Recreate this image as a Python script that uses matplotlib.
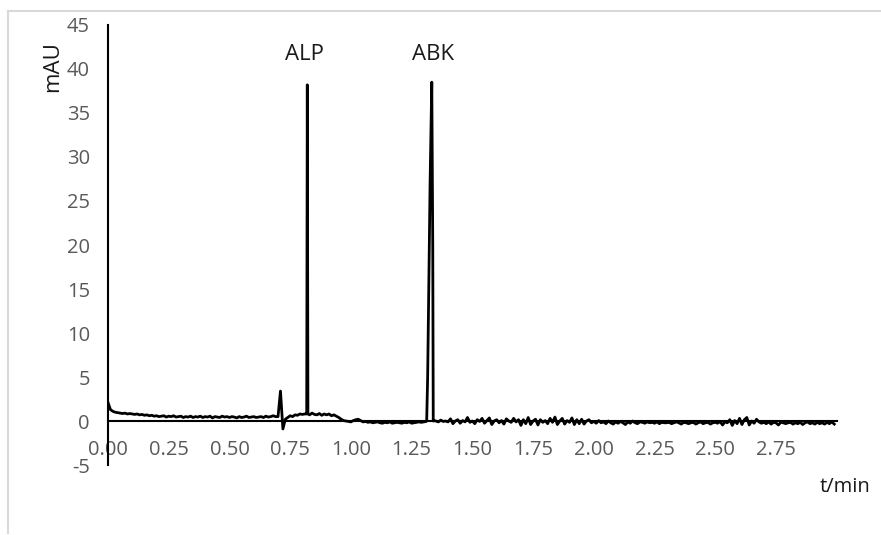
import numpy as np
import matplotlib
matplotlib.use("Agg")
import matplotlib.pyplot as plt
from matplotlib.lines import Line2D

plt.rcParams['font.family'] = ['Open Sans', 'DejaVu Sans']
plt.rcParams['axes.unicode_minus'] = False

# Detector baseline sampled every 0.01 min (mAU), 0.00 .. 2.99 min
baseline_start = 0.0
baseline_step = 0.01
baseline = [
    2.1, 1.3, 1.1, 1.0, 0.95, 0.9, 0.85, 0.9, 0.8, 0.85,
    0.8, 0.75, 0.8, 0.7, 0.75, 0.65, 0.7, 0.6, 0.65, 0.55,
    0.6, 0.5, 0.55, 0.6, 0.45, 0.55, 0.5, 0.6, 0.45, 0.5,
    0.55, 0.4, 0.5, 0.45, 0.55, 0.4, 0.5, 0.45, 0.55, 0.4,
    0.5, 0.45, 0.55, 0.35, 0.5, 0.45, 0.4, 0.55, 0.45, 0.5,
    0.4, 0.5, 0.45, 0.35, 0.5, 0.4, 0.45, 0.55, 0.4, 0.45,
    0.5, 0.4, 0.45, 0.5, 0.4, 0.55, 0.45, 0.5, 0.6, 0.5,
    0.5, 3.4, -0.9, 0.2, 0.4, 0.6, 0.5, 0.7, 0.65, 0.8,
    0.75, 0.8, 0.85, 0.7, 0.9, 0.75, 0.7, 0.85, 0.65, 0.8,
    0.7, 0.8, 0.6, 0.7, 0.55, 0.4, 0.2, 0.05, 0.0, -0.05,
    -0.1, 0.05, 0.15, 0.2, 0.05, -0.1, -0.05, -0.15, -0.1, -0.2,
    -0.15, -0.1, -0.2, -0.25, -0.15, -0.2, -0.1, -0.25, -0.2, -0.15,
    -0.2, -0.25, -0.15, -0.2, -0.1, -0.25, -0.2, -0.15, -0.1, -0.15,
    -0.1, -0.05, -0.05, 0.0, 0.05, 0.0, -0.1, 0.1, -0.05, 0.0,
    -0.1, 0.25, -0.3, 0.0, 0.15, -0.25, 0.05, -0.1, 0.4, -0.15,
    0.0, -0.3, 0.15, -0.05, 0.3, -0.25, 0.05, 0.35, -0.4, 0.0,
    0.15, -0.2, 0.05, -0.35, 0.25, 0.0, -0.15, 0.3, -0.1, 0.15,
    -0.5, 0.15, -0.3, 0.4, -0.4, 0.0, 0.2, -0.45, 0.15, -0.15,
    0.05, -0.3, 0.3, -0.15, 0.45, -0.4, 0.0, 0.3, -0.35, 0.05,
    -0.15, 0.35, -0.4, 0.15, -0.3, 0.2, -0.35, 0.0, 0.15, -0.2,
    -0.05, -0.25, 0.05, -0.2, -0.1, -0.3, 0.0, -0.2, -0.35, -0.1,
    -0.25, -0.05, -0.2, -0.4, -0.1, -0.25, 0.0, -0.2, -0.3, -0.1,
    -0.15, -0.25, -0.1, -0.2, -0.15, -0.25, -0.1, -0.3, -0.15, -0.2,
    -0.2, -0.15, -0.3, -0.2, -0.1, -0.2, -0.35, -0.15, -0.2, -0.3,
    -0.2, -0.15, -0.35, -0.2, -0.1, -0.3, -0.2, -0.15, -0.35, -0.2,
    -0.15, -0.25, -0.05, -0.45, -0.1, -0.2, 0.15, -0.5, 0.05, -0.3,
    0.3, -0.4, 0.15, 0.4, -0.45, 0.0, -0.25, 0.2, -0.1, -0.25,
    -0.15, -0.3, -0.1, -0.35, -0.15, -0.2, -0.45, -0.15, -0.2, -0.3,
    -0.2, -0.15, -0.35, -0.2, -0.3, -0.15, -0.4, -0.2, -0.1, -0.3,
    -0.2, -0.35, -0.15, -0.3, -0.2, -0.35, -0.15, -0.3, -0.1, -0.35,
]

# Peak profiles (time in min, signal in mAU)
alp_t = [0.818, 0.8205, 0.823]
alp_y = [0.8, 38.2, 0.8]
abk_t = [1.312, 1.316, 1.326, 1.333, 1.337, 1.339]
abk_y = [0.0, 5.0, 27.0, 38.5, 20.0, 0.0]

peak_names = ["ALP", "ABK"]
peak_label_t = [0.807, 1.340]
peak_label_y = 41.6

x_ticks = [0.00, 0.25, 0.50, 0.75, 1.00, 1.25, 1.50, 1.75, 2.00, 2.25, 2.50, 2.75]
y_ticks = [-5, 0, 5, 10, 15, 20, 25, 30, 35, 40, 45]

# assemble the trace
bt = baseline_start + baseline_step * np.arange(len(baseline))
by = np.array(baseline)
keep = ~(((bt > alp_t[0]) & (bt < alp_t[-1])) | ((bt > abk_t[0]) & (bt < abk_t[-1])))
t = np.concatenate([bt[keep], alp_t, abk_t])
y = np.concatenate([by[keep], alp_y, abk_y])
order = np.argsort(t, kind="stable")
t, y = t[order], y[order]

fig = plt.figure(figsize=(8.81, 5.35), dpi=100)
ax = fig.add_axes([0.1226, 0.1308, 0.9497 - 0.1226, 0.9533 - 0.1308])

ax.plot(t, y, color="black", lw=2.0, solid_joinstyle="round")

ax.set_xlim(0, 3.0)
ax.set_ylim(-5, 45)

for side in ("top", "right"):
    ax.spines[side].set_visible(False)
ax.spines["bottom"].set_position(("data", 0))
ax.spines["bottom"].set_linewidth(1.5)
ax.spines["left"].set_linewidth(1.5)

ax.set_xticks(x_ticks)
ax.set_xticklabels([f"{v:.2f}" for v in x_ticks])
ax.set_yticks(y_ticks)
ax.tick_params(axis="both", length=0, labelsize=14.5, labelcolor="#595959")
ax.tick_params(axis="x", pad=14)
ax.tick_params(axis="y", pad=13)

for name, xt in zip(peak_names, peak_label_t):
    ax.text(xt, peak_label_y, name, ha="center", va="center", fontsize=16, color="#1a1a1a")

fig.text(0.060, 0.875, "mAU", rotation=90, ha="center", va="center", fontsize=16, color="#1a1a1a")
fig.text(0.959, 0.090, "t/min", ha="center", va="center", fontsize=14.5, color="#1a1a1a")

# light frame on the left and top edges
fig.add_artist(Line2D([8 / 881, 8 / 881], [1 - 533 / 535, 1 - 11 / 535], color="#d9d9d9", lw=1.5,
                      transform=fig.transFigure))
fig.add_artist(Line2D([8 / 881, 1.0], [1 - 11 / 535, 1 - 11 / 535], color="#d9d9d9", lw=1.5,
                      transform=fig.transFigure))

fig.savefig("out.png", dpi=100)
